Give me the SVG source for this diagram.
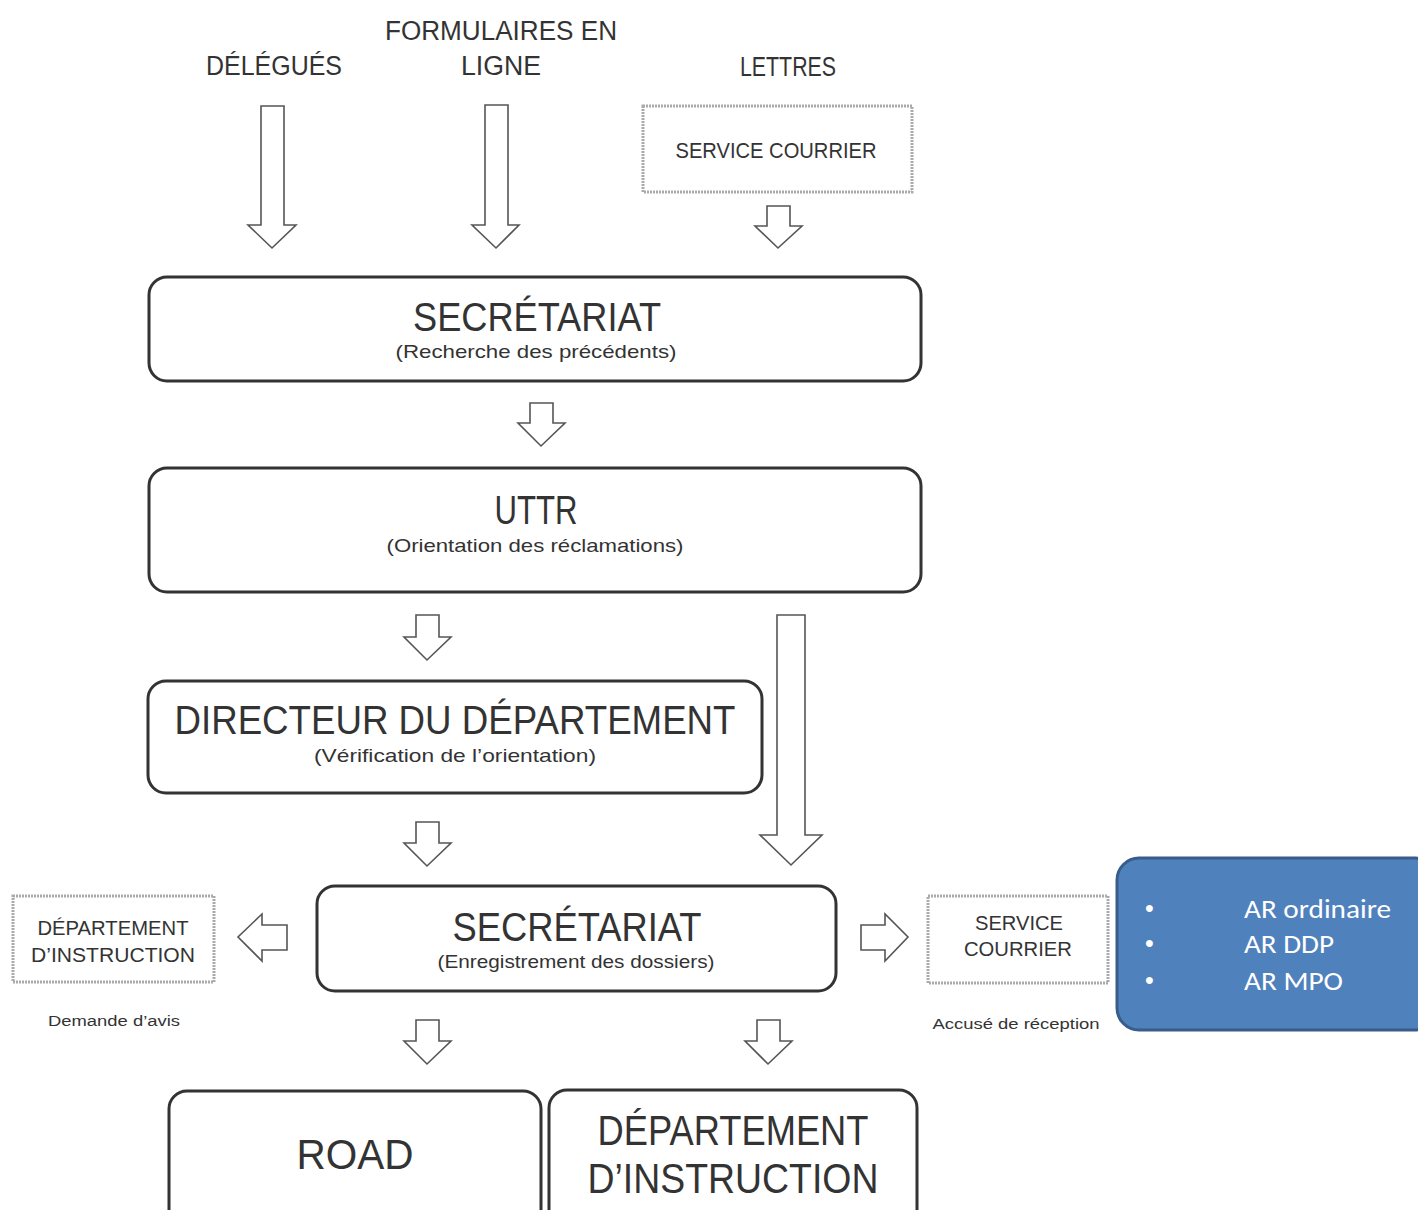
<svg xmlns="http://www.w3.org/2000/svg" width="1418" height="1210" viewBox="0 0 1418 1210">
<style>
text{font-family:"Liberation Sans",Arial,sans-serif;fill:#333;text-anchor:middle}
.box{fill:#fff;stroke:#333;stroke-width:3}
.dbox{fill:#fff;stroke:#aaa;stroke-width:3;stroke-dasharray:2 1}
.arr{fill:#fff;stroke:#555;stroke-width:1.6;stroke-linejoin:miter}
.big{font-size:40px}
.sub{font-size:19px}
.lab{font-size:27px}
.small{font-size:14px}
.blue{font-family:Carlito,"Liberation Sans",sans-serif;fill:#fff;font-size:26px;text-anchor:start}
.bul{font-family:"Liberation Sans",sans-serif;fill:#fff;font-size:25px;text-anchor:start}
</style>
<rect width="1418" height="1210" fill="#fff"/>
<g id="labels">
<text class="lab" x="274" y="75" textLength="136" lengthAdjust="spacingAndGlyphs">DÉLÉGUÉS</text>
<text class="lab" x="501" y="40" textLength="232" lengthAdjust="spacingAndGlyphs">FORMULAIRES EN</text>
<text class="lab" x="501" y="75" textLength="80" lengthAdjust="spacingAndGlyphs">LIGNE</text>
<text class="lab" x="788" y="76" textLength="96" lengthAdjust="spacingAndGlyphs">LETTRES</text>
</g>
<g id="service-courrier-top">
<rect class="dbox" x="643" y="106" width="269" height="86"/>
<text x="776" y="158" font-size="22" textLength="201" lengthAdjust="spacingAndGlyphs">SERVICE COURRIER</text>
</g>
<g id="secretariat-1">
<rect class="box" x="149" y="277" width="772" height="104" rx="18"/>
<text class="big" x="537" y="331" textLength="248" lengthAdjust="spacingAndGlyphs">SECRÉTARIAT</text>
<text class="sub" x="536" y="358" textLength="281" lengthAdjust="spacingAndGlyphs">(Recherche des précédents)</text>
</g>
<g id="uttr">
<rect class="box" x="149" y="468" width="772" height="124" rx="18"/>
<text class="big" x="536" y="524" textLength="83" lengthAdjust="spacingAndGlyphs">UTTR</text>
<text class="sub" x="535" y="552" textLength="297" lengthAdjust="spacingAndGlyphs">(Orientation des réclamations)</text>
</g>
<g id="directeur">
<rect class="box" x="148" y="681" width="614" height="112" rx="18"/>
<text class="big" x="455" y="734" textLength="561" lengthAdjust="spacingAndGlyphs">DIRECTEUR DU DÉPARTEMENT</text>
<text class="sub" x="455" y="762" textLength="282" lengthAdjust="spacingAndGlyphs">(Vérification de l’orientation)</text>
</g>
<g id="secretariat-2">
<rect class="box" x="317" y="886" width="519" height="105" rx="18"/>
<text class="big" x="577" y="941" textLength="249" lengthAdjust="spacingAndGlyphs">SECRÉTARIAT</text>
<text class="sub" x="576" y="968" textLength="277" lengthAdjust="spacingAndGlyphs">(Enregistrement des dossiers)</text>
</g>
<g id="dept-instruction-left">
<rect class="dbox" x="13" y="896" width="201" height="86"/>
<text x="113" y="935" font-size="21" textLength="151" lengthAdjust="spacingAndGlyphs">DÉPARTEMENT</text>
<text x="113" y="962" font-size="21" textLength="164" lengthAdjust="spacingAndGlyphs">D’INSTRUCTION</text>
<text class="small" x="114" y="1026" textLength="132" lengthAdjust="spacingAndGlyphs">Demande d’avis</text>
</g>
<g id="service-courrier-right">
<rect class="dbox" x="928" y="896" width="180" height="87"/>
<text x="1019" y="930" font-size="21" textLength="88" lengthAdjust="spacingAndGlyphs">SERVICE</text>
<text x="1018" y="956" font-size="21" textLength="108" lengthAdjust="spacingAndGlyphs">COURRIER</text>
<text class="small" x="1016" y="1029" textLength="167" lengthAdjust="spacingAndGlyphs">Accusé de réception</text>
</g>
<g id="ar-list">
<rect x="1117" y="858" width="320" height="172" rx="22" fill="#4f81bd" stroke="#385d8a" stroke-width="3"/>
<text class="bul" x="1145" y="917">•</text>
<text class="blue" x="1244" y="918" textLength="147" lengthAdjust="spacingAndGlyphs">AR ordinaire</text>
<text class="bul" x="1145" y="952">•</text>
<text class="blue" x="1244" y="953" textLength="90" lengthAdjust="spacingAndGlyphs">AR DDP</text>
<text class="bul" x="1145" y="989">•</text>
<text class="blue" x="1244" y="990" textLength="99" lengthAdjust="spacingAndGlyphs">AR MPO</text>
</g>
<g id="road">
<rect class="box" x="169" y="1091" width="372" height="140" rx="18"/>
<text x="355" y="1169" font-size="42" textLength="117" lengthAdjust="spacingAndGlyphs">ROAD</text>
</g>
<g id="dept-instruction-bottom">
<rect class="box" x="549" y="1090" width="368" height="140" rx="18"/>
<text x="733" y="1145" font-size="42" textLength="271" lengthAdjust="spacingAndGlyphs">DÉPARTEMENT</text>
<text x="733" y="1193" font-size="42" textLength="291" lengthAdjust="spacingAndGlyphs">D’INSTRUCTION</text>
</g>
<g id="connectors">
<path class="arr" d="M261,106 H284 V225 H296 L272,248 L248,225 H261 Z"/>
<path class="arr" d="M485,105 H508 V225 H519 L496,248 L472,225 H485 Z"/>
<path class="arr" d="M767,206 H790 V226 H802 L778,248 L755,226 H767 Z"/>
<path class="arr" d="M530,403 H553 V423 H565 L541,446 L518,423 H530 Z"/>
<path class="arr" d="M416,615 H439 V637 H451 L427,660 L404,637 H416 Z"/>
<path class="arr" d="M777,615 H805 V835 H822 L791,865 L760,835 H777 Z"/>
<path class="arr" d="M416,822 H439 V843 H451 L427,866 L404,843 H416 Z"/>
<path class="arr" d="M287,925 V950 H262 V961 L238,937 L262,914 V925 Z"/>
<path class="arr" d="M861,925 H885 V914 L908,937 L885,961 V950 H861 Z"/>
<path class="arr" d="M416,1020 H439 V1041 H451 L427,1064 L404,1041 H416 Z"/>
<path class="arr" d="M757,1020 H780 V1041 H792 L768,1064 L745,1041 H757 Z"/>
</g>
</svg>
